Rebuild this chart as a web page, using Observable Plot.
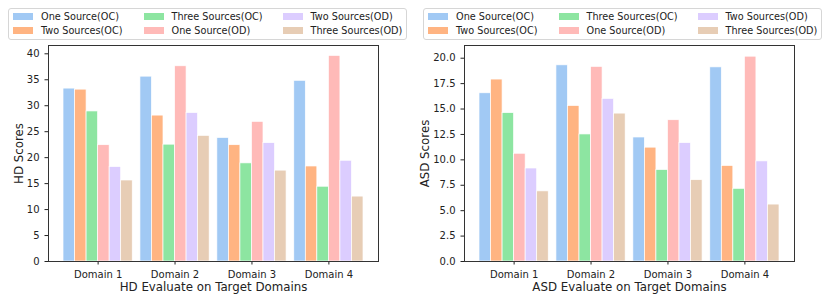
<!DOCTYPE html>
<html>
<head>
<meta charset="utf-8">
<script src="https://cdn.jsdelivr.net/npm/d3@7"></script>
<script src="https://cdn.jsdelivr.net/npm/@observablehq/plot@0.6"></script>
<style>
  html, body { margin: 0; padding: 0; background: #fff; }
  #wrap { display: flex; width: 830px; height: 300px; font-family: "DejaVu Sans", sans-serif; }
  .panel { position: relative; width: 415px; height: 300px; }
  .legend { position: absolute; left: 8px; top: 8px; width: 397px; height: 30px;
            border: 1px solid #d6d6d6; border-radius: 3px; background: rgba(255,255,255,0.8);
            font-size: 9.7px; color: #222; }
  .item { position: absolute; display: flex; align-items: center; height: 12px; white-space: nowrap; }
  .swatch { width: 20px; height: 7px; margin-right: 8px; }
</style>
</head>
<body>
<div id="wrap"></div>
<script>
const domains = ["Domain 1", "Domain 2", "Domain 3", "Domain 4"];
const series = ["One Source(OC)", "Two Sources(OC)", "Three Sources(OC)",
                "One Source(OD)", "Two Sources(OD)", "Three Sources(OD)"];
const colors = ["#a1c9f4", "#ffb482", "#8de5a1", "#ffbab8", "#dccdff", "#e7cdb5"];

// values per series, in domain order
const hdScores = [
  [33.3, 35.6, 23.8, 34.8],
  [33.1, 28.1, 22.4, 18.3],
  [28.9, 22.5, 18.9, 14.4],
  [22.4, 37.6, 26.9, 39.6],
  [18.2, 28.6, 22.8, 19.4],
  [15.6, 24.2, 17.5, 12.5]
];
const asdScores = [
  [16.55, 19.3, 12.2, 19.1],
  [17.9, 15.3, 11.2, 9.4],
  [14.6, 12.5, 9.0, 7.15],
  [10.6, 19.15, 13.9, 20.15],
  [9.15, 16.0, 11.65, 9.85],
  [6.9, 14.55, 8.0, 5.6]
];
const hdTicks = [0, 5, 10, 15, 20, 25, 30, 35, 40];
const asdTicks = [0, 2.5, 5, 7.5, 10, 12.5, 15, 17.5, 20];

const barW = 0.15;
function rowsOf(values) {
  const rows = [];
  values.forEach((vals, s) => vals.forEach((v, d) => {
    const c = d + (s - (series.length - 1) / 2) * barW;
    rows.push({series: series[s], x1: c - barW / 2, x2: c + barW / 2, value: v});
  }));
  return rows;
}

function panel(values, yMax, ticks, fmt, yLabel, xLabel, mL, mR, yLabelDx) {
  const div = document.createElement("div");
  div.className = "panel";
  const chart = Plot.plot({
    width: 415, height: 300,
    marginLeft: mL, marginRight: mR, marginTop: 45, marginBottom: 39,
    style: {fontFamily: "DejaVu Sans", fontSize: "10px", color: "#222", background: "#fff"},
    x: {domain: [-0.645, 3.645], ticks: [0, 1, 2, 3], tickFormat: i => domains[i], tickSize: 3.5, label: null},
    y: {domain: [0, yMax], ticks: ticks, tickFormat: fmt, tickSize: 3.5, label: null},
    color: {domain: series, range: colors},
    marks: [
      Plot.rectY(rowsOf(values), {x1: "x1", x2: "x2", y: "value", fill: "series", stroke: "white", strokeWidth: 0.7}),
      Plot.frame({stroke: "#333", strokeWidth: 1}),
      Plot.text([xLabel], {frameAnchor: "bottom", lineAnchor: "middle", textAnchor: "middle", dy: 25.5, fontSize: 11.8, fill: "#222"}),
      Plot.text([yLabel], {frameAnchor: "left", lineAnchor: "middle", textAnchor: "middle", rotate: -90, dx: yLabelDx, fontSize: 11.8, fill: "#222"})
    ]
  });
  div.appendChild(chart);
  const leg = document.createElement("div");
  leg.className = "legend";
  const lefts = [4, 134.5, 273.5], tops = [1, 15.5];
  series.forEach((s, i) => {
    const it = document.createElement("div");
    it.className = "item";
    it.style.left = lefts[Math.floor(i / 2)] + "px";
    it.style.top = tops[i % 2] + "px";
    const sw = document.createElement("span");
    sw.className = "swatch";
    sw.style.background = colors[i];
    const tx = document.createElement("span");
    tx.textContent = s;
    it.appendChild(sw); it.appendChild(tx);
    leg.appendChild(it);
  });
  div.appendChild(leg);
  return div;
}

const wrap = document.getElementById("wrap");
wrap.appendChild(panel(hdScores, 41.6, hdTicks, d => String(d), "HD Scores", "HD Evaluate on Target Domains", 48, 37, -29));
wrap.appendChild(panel(asdScores, 21.25, asdTicks, d => d.toFixed(1), "ASD Scores", "ASD Evaluate on Target Domains", 49, 36, -39));
</script>
</body>
</html>
